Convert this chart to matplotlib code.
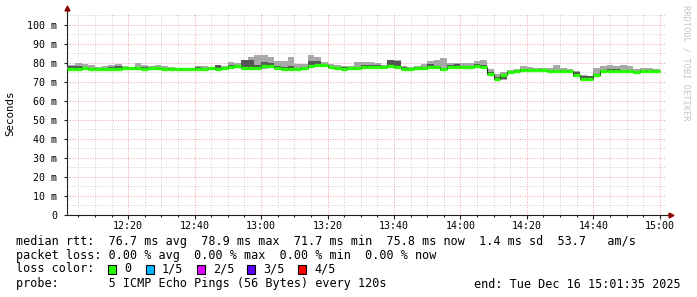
import numpy as np
import matplotlib
matplotlib.use("Agg")
import matplotlib.pyplot as plt
from matplotlib.patches import Rectangle

plt.rcParams['font.family'] = ['DejaVu Sans Mono']

# --- data: 5 sorted pings per 120s step, ms (12:02 .. 15:00) ---
ping_min = [76.6, 76.6, 76.8, 76.6, 76.6, 76.6, 76.6, 76.6, 77.2, 77.0,
            76.7, 76.6, 76.8, 76.8, 76.6, 76.6, 76.5, 76.5, 76.5, 76.6,
            76.6, 76.7, 76.2, 76.8, 77.2, 77.4, 76.7, 76.7, 76.7, 77.0,
            77.2, 77.0, 76.4, 76.5, 76.5, 76.8, 77.5, 77.8, 78.1, 77.4,
            76.8, 76.6, 76.9, 76.7, 77.3, 77.5, 77.6, 77.3, 77.8, 77.4,
            76.6, 76.6, 77.0, 77.0, 77.4, 77.2, 76.0, 77.5, 77.3, 77.5,
            77.5, 78.0, 77.6, 73.7, 71.3, 71.3, 74.4, 75.2, 75.9, 75.8,
            75.8, 75.8, 75.4, 75.4, 75.4, 75.1, 72.7, 71.3, 71.3, 73.2,
            75.4, 75.5, 75.4, 75.4, 75.1, 74.9, 75.5, 75.4, 75.3]
ping_p2 = [76.8, 76.8, 77.0, 76.8, 76.8, 76.8, 76.8, 76.8, 77.4, 77.2,
           76.9, 76.8, 77.0, 77.0, 76.8, 76.8, 76.7, 76.7, 76.7, 76.8,
           76.8, 76.9, 76.6, 77.0, 77.4, 77.6, 76.9, 76.9, 76.9, 77.3,
           77.4, 77.2, 76.6, 76.7, 76.7, 77.0, 77.8, 78.0, 78.3, 77.6,
           77.0, 76.8, 77.1, 76.9, 77.5, 77.7, 77.8, 77.5, 78.0, 77.6,
           76.8, 76.8, 77.2, 77.2, 77.6, 77.4, 76.6, 77.7, 77.5, 77.7,
           77.7, 78.2, 77.8, 74.0, 71.5, 71.6, 74.6, 75.4, 76.1, 76.0,
           76.0, 76.0, 75.6, 75.6, 75.6, 75.3, 72.9, 71.5, 71.5, 73.4,
           75.6, 75.7, 75.6, 75.6, 75.3, 75.1, 75.7, 75.6, 75.5]
median = [77.0, 77.0, 77.2, 77.0, 77.0, 77.0, 77.0, 77.0, 77.6, 77.4,
          77.1, 77.0, 77.2, 77.2, 77.0, 77.0, 76.9, 76.9, 76.9, 77.0,
          77.0, 77.2, 77.0, 77.2, 77.8, 78.2, 77.1, 77.1, 77.1, 78.6,
          78.3, 77.5, 76.9, 76.9, 76.9, 77.3, 78.2, 78.7, 78.9, 78.0,
          77.3, 77.0, 77.4, 77.1, 77.8, 78.0, 78.1, 77.8, 78.3, 78.0,
          77.0, 77.0, 77.5, 77.5, 77.9, 77.7, 77.0, 78.0, 77.9, 78.0,
          78.0, 78.6, 78.1, 74.3, 71.7, 73.6, 75.2, 75.7, 76.4, 76.3,
          76.3, 76.3, 75.9, 75.9, 75.9, 75.6, 73.5, 71.8, 71.8, 73.8,
          75.9, 76.0, 75.9, 75.9, 75.6, 75.4, 76.0, 75.9, 75.8]
ping_p4 = [78.3, 78.5, 78.0, 77.6, 77.4, 77.5, 78.1, 78.4, 77.9, 77.6,
           78.0, 77.8, 77.6, 77.6, 77.4, 77.3, 77.1, 77.1, 77.0, 78.1,
           77.6, 77.4, 78.9, 77.5, 78.9, 78.5, 81.4, 81.4, 79.0, 80.7,
           79.9, 78.5, 77.8, 78.5, 77.4, 77.8, 81.0, 80.8, 79.6, 78.5,
           77.8, 77.8, 77.8, 77.8, 78.9, 79.0, 78.9, 78.2, 81.5, 81.0,
           77.9, 77.4, 77.9, 77.9, 79.2, 78.4, 77.6, 79.0, 79.3, 78.5,
           78.5, 79.2, 79.0, 75.0, 72.5, 74.4, 75.6, 76.2, 76.8, 76.8,
           76.7, 76.7, 76.3, 76.5, 76.3, 76.0, 75.2, 73.4, 73.0, 74.3,
           76.5, 76.9, 76.7, 76.5, 76.2, 75.9, 76.5, 76.3, 76.2]
ping_max = [78.9, 79.8, 79.6, 78.9, 78.1, 78.5, 78.8, 79.3, 78.3, 78.0,
            79.8, 79.1, 78.5, 79.0, 78.2, 78.0, 77.4, 77.3, 77.1, 78.4,
            78.3, 77.8, 78.9, 78.2, 80.7, 79.9, 81.4, 83.4, 84.0, 84.4,
            83.2, 81.0, 80.8, 83.3, 79.3, 79.6, 84.3, 83.3, 80.7, 79.2,
            78.7, 78.3, 78.5, 80.6, 80.7, 80.7, 79.9, 78.7, 81.6, 81.6,
            78.3, 78.0, 78.6, 79.6, 80.8, 81.5, 82.8, 79.8, 79.8, 79.8,
            79.8, 81.1, 81.5, 77.0, 74.0, 75.4, 76.4, 77.0, 78.2, 78.1,
            77.5, 77.6, 77.6, 78.7, 77.3, 76.7, 75.6, 73.6, 73.2, 77.6,
            78.3, 78.9, 78.4, 78.9, 78.4, 76.8, 77.3, 77.6, 76.7]

y_ticks = [0, 10, 20, 30, 40, 50, 60, 70, 80, 90, 100]
y_labels = ["0", "10 m", "20 m", "30 m", "40 m", "50 m", "60 m", "70 m",
            "80 m", "90 m", "100 m"]
x_ticks = [20, 40, 60, 80, 100, 120, 140, 160, 180]   # minutes after 12:00
x_labels = ["12:20", "12:40", "13:00", "13:20", "13:40", "14:00", "14:20",
            "14:40", "15:00"]

loss_labels = ["0", "1/5", "2/5", "3/5", "4/5"]
loss_colors = ["#26ff00", "#00b8ff", "#dd00ff", "#5e00ff", "#ff0000"]

t_start = 1 + 35 / 60.0   # 12:01:35
t_end = t_start + 180

# step edges every 120 s
edges = np.arange(2, 181, 2).astype(float)
edges[0] = t_start

W, H = 697, 297
fig = plt.figure(figsize=(W / 100, H / 100), dpi=100)
fig.patch.set_facecolor("white")
ax = fig.add_axes([67 / W, (H - 215) / H, (665 - 67) / W, (215 - 13) / H])
ax.set_xlim(t_start, t_end)
ax.set_ylim(0, 106.3)

# grid
minor_c = "#cfcfcf"
major_c = "#f0a0a0"
dots = (0, (1, 1.6))
for v in np.arange(5, 106, 5):
    if v % 10:
        ax.axhline(v, color=minor_c, lw=0.7, ls=dots, zorder=0)
for v in np.arange(5, 181, 5):
    if v % 20:
        ax.axvline(v, color=minor_c, lw=0.7, ls=dots, zorder=0)
for v in y_ticks[1:]:
    ax.axhline(v, color=major_c, lw=0.7, ls=dots, zorder=0)
for v in x_ticks:
    ax.axvline(v, color=major_c, lw=0.7, ls=dots, zorder=0)

# smoke
ax.stairs(ping_max, edges, baseline=ping_min, fill=True, color="#a8a8a8", lw=0, zorder=2)
ax.stairs(ping_p4, edges, baseline=ping_p2, fill=True, color="#555555", lw=0, zorder=3)
# median
ax.stairs(median, edges, baseline=None, color="#202020", lw=0.8, zorder=4)
ax.hlines(median, edges[:-1], edges[1:], color=loss_colors[0], lw=2.4, zorder=5)

# axes
for s in ["top", "right"]:
    ax.spines[s].set_visible(False)
ax.spines["left"].set_color("#202020")
ax.spines["bottom"].set_color("#202020")
ax.spines["left"].set_linewidth(0.8)
ax.spines["bottom"].set_linewidth(0.8)
ax.plot([0, 0], [1, 1.02], color="#202020", lw=0.8, transform=ax.transAxes, clip_on=False)
ax.plot([1, 1.01], [0, 0], color="#202020", lw=0.8, transform=ax.transAxes, clip_on=False)
ax.plot([0], [1.025], marker="^", ms=3.5, color="#8b0000", transform=ax.transAxes, clip_on=False)
ax.plot([1.01], [0], marker=">", ms=3.5, color="#8b0000", transform=ax.transAxes, clip_on=False)

ax.set_yticks(y_ticks)
ax.set_yticklabels(y_labels)
ax.set_xticks(x_ticks)
ax.set_xticklabels(x_labels)
ax.set_xticks([v for v in range(5, 181, 5) if v % 20], minor=True)
ax.tick_params(axis="y", length=2, width=0.8, pad=5, labelsize=7.2, color="#202020")
ax.tick_params(axis="x", which="major", length=3, width=0.8, pad=1.5, labelsize=7.2, color="#202020")
ax.tick_params(axis="x", which="minor", length=1.5, width=0.8, color="#202020")

fig.text(10 / W, 1 - 113 / H, "Seconds", rotation=90, ha="center", va="center", fontsize=7.8)
fig.text(686 / W, 1 - 5 / H, "RRDTOOL / TOBI OETIKER", rotation=270, ha="center", va="top",
         fontsize=6.2, color="#c4c4c4")

# legend block
fs = 8.5
fig.text(16 / W, 1 - 241 / H,
         "median rtt:  76.7 ms avg  78.9 ms max  71.7 ms min  75.8 ms now  1.4 ms sd  53.7   am/s",
         ha="left", va="center", fontsize=fs)
fig.text(16 / W, 1 - 255 / H, "packet loss: 0.00 % avg  0.00 % max  0.00 % min  0.00 % now",
         ha="left", va="center", fontsize=fs)
fig.text(16 / W, 1 - 269 / H, "loss color:", ha="left", va="center", fontsize=fs)
box_x = [108, 146, 197, 247, 298]
for bx, lab, col in zip(box_x, loss_labels, loss_colors):
    fig.patches.append(Rectangle((bx / W, 1 - 273.5 / H), 8 / W, 9 / H, transform=fig.transFigure,
                                 facecolor=col, edgecolor="black", lw=0.8))
    fig.text((bx + 16) / W, 1 - 269 / H, lab, ha="left", va="center", fontsize=fs)
fig.text(16 / W, 1 - 284 / H, "probe:       5 ICMP Echo Pings (56 Bytes) every 120s",
         ha="left", va="center", fontsize=fs)
fig.text(681 / W, 1 - 284 / H, "end: Tue Dec 16 15:01:35 2025", ha="right", va="center", fontsize=fs)

fig.savefig("out.png", dpi=100)
